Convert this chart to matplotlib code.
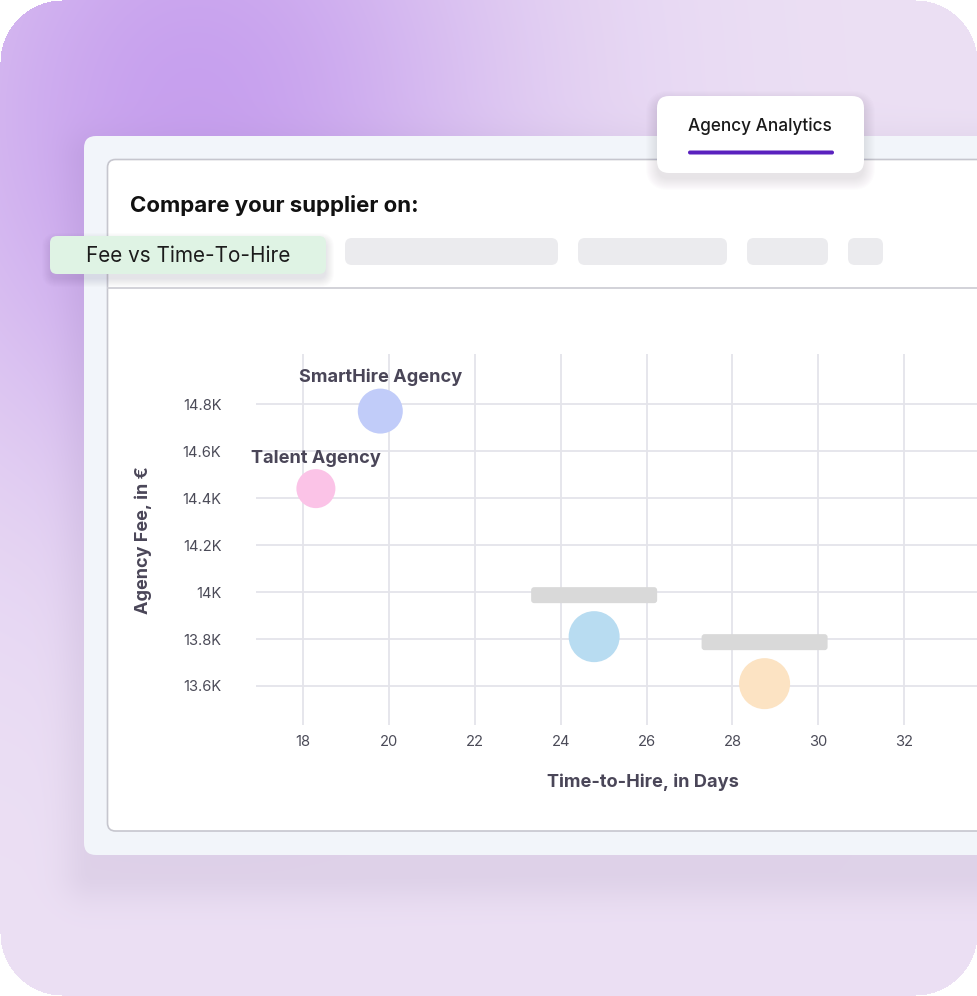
import numpy as np
import matplotlib.pyplot as plt
from matplotlib.patches import FancyBboxPatch
from matplotlib import transforms
from matplotlib.ticker import FuncFormatter

plt.rcParams['font.family'] = ['Inter', 'DejaVu Sans']

# Chart data
agencies = ["SmartHire Agency", "Talent Agency", "", ""]
days_to_hire = [19.8, 18.3, 24.78, 28.75]
agency_fee = [14770, 14440, 13810, 13610]
bubble_px = [45, 39, 51, 51]          # bubble diameter in pixels
bubble_colors = ["#C1CCF9", "#FBC3E7", "#B8DCF1", "#FCE3C3"]
x_ticks = [18, 20, 22, 24, 26, 28, 30, 32]
y_ticks = [13600, 13800, 14000, 14200, 14400, 14600, 14800]
placeholder_tabs = [(345, 213), (578, 149), (747, 81), (848, 35)]

W, H = 978, 996
fig = plt.figure(figsize=(W / 100, H / 100), dpi=100)

# ---- background: lavender with purple glow and panel shadow ----
yy, xx = np.mgrid[0:H, 0:W].astype(float)
base = np.array([236, 224, 244]) / 255
glow = np.array([199, 160, 238]) / 255
g = np.exp(-(((xx - 195) / 320) ** 2 + ((yy - 115) / 380) ** 2))
img = base[None, None, :] * (1 - g[..., None]) + glow[None, None, :] * g[..., None]

# soft shadow under the main panel
sx0, sy0, sx1, sy1 = 92, 160, 2000, 872
dx = np.maximum(np.maximum(sx0 - xx, xx - sx1), 0)
dy = np.maximum(np.maximum(sy0 - yy, yy - sy1), 0)
d = np.hypot(dx, dy)
sh = 0.11 * np.exp(-(d / 30) ** 2)
shade = np.array([0.45, 0.38, 0.55])
img = img * (1 - sh[..., None]) + shade[None, None, :] * sh[..., None]

# rounded outer corners -> white
R = 62
cx = np.clip(xx, R, W - 1 - R)
cy = np.clip(yy, R, H - 1 - R)
outside = np.hypot(xx - cx, yy - cy) > R
img[outside] = 1.0

bg = fig.add_axes([0, 0, 1, 1])
bg.imshow(img, extent=(0, W, H, 0), aspect='auto', interpolation='bilinear')
bg.set_xlim(0, W)
bg.set_ylim(H, 0)
bg.axis('off')


def rbox(x, y, w, h, r, **kw):
    p = FancyBboxPatch((x, y), w, h, boxstyle=f"round,pad=0,rounding_size={r}", **kw)
    bg.add_patch(p)
    return p


def soft_shadow(x, y, w, h, r, dy=6, n=10, alpha=0.012):
    for i in range(n):
        rbox(x - i, y + dy - i, w + 2 * i, h + 2 * i, r + i,
             fc=(0.35, 0.3, 0.45), ec='none', alpha=alpha)


# panels
rbox(84, 136, 1000, 719, 12, fc='#F2F5FA', ec='none')
rbox(107.5, 159.5, 1000, 671.5, 8, fc='white', ec='#C6C6CE', lw=1.2)
bg.plot([107.5, W], [288, 288], color='#CFCFD6', lw=1.3)

bg.text(130, 205, "Compare your supplier on:", fontsize=16, fontweight='bold',
        color='#111111', va='center', ha='left')

for x0, w0 in placeholder_tabs:
    rbox(x0, 238, w0, 27, 7, fc='#EBEBEE', ec='none')

# green tab
soft_shadow(50, 236, 276, 38, 7, dy=5, n=9, alpha=0.014)
rbox(50, 236, 276, 38, 7, fc='#DFF3E4', ec='none')
bg.text(86, 255.5, "Fee vs Time-To-Hire", fontsize=14.9, color='#1C1C1C',
        va='center', ha='left')

# agency analytics card
soft_shadow(657, 96, 207, 77, 12, dy=6, n=12, alpha=0.012)
rbox(657, 96, 207, 77, 12, fc='white', ec='none')
bg.text(688, 126.5, "Agency Analytics", fontsize=12.4, fontweight='medium',
        color='#1A1A1A', va='center', ha='left')
rbox(688, 150.5, 146, 4, 2, fc='#5A21BE', ec='none')

# ---- bubble chart ----
ax = fig.add_axes([256 / W, 1 - 725 / H, (W - 256) / W, (725 - 354) / H])
ax.set_facecolor('none')
ax.set_xlim(16.905, 33.72)
ax.set_ylim(13434, 15013)
ax.set_xticks(x_ticks)
ax.set_yticks(y_ticks)
ax.yaxis.set_major_formatter(FuncFormatter(lambda v, p: f"{v / 1000:g}K"))
ax.grid(True, color='#E4E4EA', lw=1.3)
ax.set_axisbelow(True)
for s in ax.spines.values():
    s.set_visible(False)
ax.tick_params(length=0, labelsize=10.6, colors='#4B4B58')
ax.tick_params(axis='y', pad=25)
ax.tick_params(axis='x', pad=7)

sizes = [(dpx * 0.72) ** 2 for dpx in bubble_px]
ax.scatter(days_to_hire, agency_fee, s=sizes, c=bubble_colors, edgecolors='none',
           zorder=3, clip_on=False)

for name, xv, yv, dpx in zip(agencies, days_to_hire, agency_fee, bubble_px):
    r = dpx / 2
    anchor = transforms.ScaledTranslation(xv, yv, ax.transData)
    if name:
        ax.annotate(name, (xv, yv), xytext=(0, (r + 11) * 0.72), textcoords='offset points',
                    ha='center', va='center', fontsize=13.1, fontweight='bold',
                    color='#4A4658', zorder=4)
    else:
        bar = FancyBboxPatch((-63, r + 8), 126, 16, boxstyle="round,pad=0,rounding_size=3",
                             fc='#D9D9D9', ec='none', transform=transforms.Affine2D() + anchor,
                             zorder=4, clip_on=False)
        ax.add_patch(bar)

ax.set_xlabel("Time-to-Hire, in Days", fontsize=13.1, fontweight='bold', color='#4A4658')
ax.xaxis.set_label_coords((642.5 - 256) / (W - 256), -(782 - 725) / (725 - 354))
ax.xaxis.label.set_va('center')
ax.set_ylabel("Agency Fee, in €", fontsize=13, fontweight='bold', color='#4A4658')
ax.yaxis.set_label_coords((143 - 256) / (W - 256), (725 - 540) / (725 - 354))
ax.yaxis.label.set_va('center')

fig.savefig("out.png", dpi=100)
